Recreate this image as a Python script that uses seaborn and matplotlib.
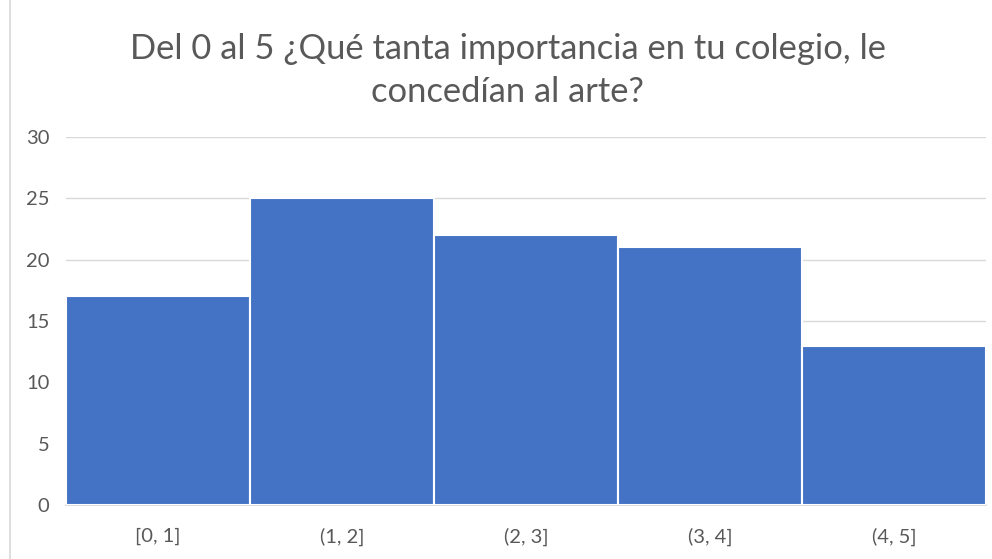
import matplotlib
matplotlib.use("Agg")
import matplotlib.pyplot as plt
from matplotlib.lines import Line2D
import seaborn as sns

# ── DATA ──────────────────────────────────────────────────────────────────────

bins   = ["[0, 1]", "(1, 2]", "(2, 3]", "(3, 4]", "(4, 5]"]
counts = [17, 25, 22, 21, 13]
yticks = [0, 5, 10, 15, 20, 25, 30]

title = "Del 0 al 5 ¿Qué tanta importancia en tu colegio, le\nconcedían al arte?"

# ── STYLE ─────────────────────────────────────────────────────────────────────

sns.set_theme(style="white")
plt.rcParams["font.family"] = ["Lato", "DejaVu Sans"]

BAR   = "#4472C4"
GRID  = "#D9D9D9"
TEXT  = "#595959"

fig = plt.figure(figsize=(9.92, 5.59), dpi=100)
ax = fig.add_axes([0.0665, 0.0966, 0.9274, 0.6583])

sns.barplot(x=bins, y=counts, ax=ax, color=BAR, saturation=1, width=1,
            edgecolor="white", linewidth=1.5, zorder=3)

ax.set_xlim(-0.5, len(bins) - 0.5)
ax.set_ylim(0, 30)
ax.set_yticks(yticks)
ax.yaxis.grid(True, color=GRID, linewidth=1, zorder=0)
ax.set_axisbelow(True)
for side in ["top", "right", "left"]:
    ax.spines[side].set_visible(False)
ax.spines["bottom"].set_color(GRID)
ax.tick_params(axis="y", length=0, pad=12, labelsize=14.5, labelcolor=TEXT)
ax.tick_params(axis="x", length=0, pad=16, labelsize=14.5, labelcolor=TEXT)
ax.set_xlabel("")
ax.set_ylabel("")

fig.text(0.512, 0.874, title, ha="center", va="center", fontsize=24.8,
         color=TEXT, linespacing=1.42)

# left border of the chart frame
fig.add_artist(Line2D([0.0105, 0.0105], [0, 1], color=GRID, linewidth=1.2))

plt.savefig("out.png", dpi=100)
plt.close()
